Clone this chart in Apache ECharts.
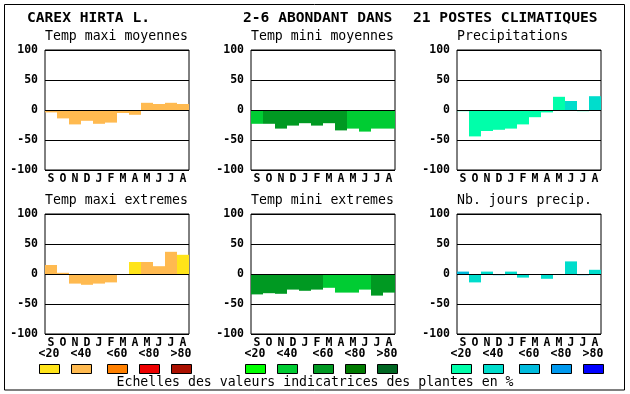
<!DOCTYPE html>
<html><head><meta charset="utf-8">
<script src="https://cdn.jsdelivr.net/npm/echarts@6/dist/echarts.min.js"></script>
<style>html,body{margin:0;padding:0;background:#fff}#c{width:630px;height:394px}</style>
</head><body><div id="c"></div>
<script>
const months = ['S','O','N','D','J','F','M','A','M','J','J','A'];
const yTicks = [-100,-50,0,50,100];
const headTexts = ['CAREX HIRTA L.','2-6 ABONDANT DANS','21 POSTES CLIMATIQUES'];
const panelTitles = ['Temp maxi moyennes','Temp mini moyennes','Precipitations','Temp maxi extremes','Temp mini extremes','Nb. jours precip.'];
const classLabels = ['<20','<40','<60','<80','>80'];
const footer = 'Echelles des valeurs indicatrices des plantes en %';

const paletteTmax = ['#FFE41A','#FFBA50','#FF8000','#EE0000','#AA1000'];
const paletteTmin = ['#00FF00','#00CC33','#009922','#007A00','#006622'];
const palettePrec = ['#00FFAA','#00DDCC','#00BBDD','#0099EE','#0000FF'];

const tmaxMoy    = [-4,-14,-24,-18,-23,-21,-5,-8,12,10,12,10];
const tmaxMoyCls = [1,1,1,1,1,1,1,1,1,1,1,1];
const tminMoy    = [-23,-23,-31,-26,-22,-26,-22,-34,-31,-36,-31,-31];
const tminMoyCls = [1,2,2,2,2,2,2,2,1,1,1,1];
const precip     = [-2,-44,-35,-33,-31,-24,-12,-4,22,15,-2,23];
const precipCls  = [0,0,0,0,0,0,0,0,0,1,0,1];
const tmaxExt    = [15,2,-16,-18,-16,-14,0,20,20,13,37,32];
const tmaxExtCls = [1,1,1,1,1,1,1,0,1,1,1,0];
const tminExt    = [-34,-32,-33,-26,-28,-26,-23,-31,-31,-26,-36,-31];
const tminExtCls = [2,2,2,2,2,2,1,1,1,1,2,2];
const nbJours    = [4,-14,4,-2,4,-6,0,-8,0,21,-2,7];
const nbJoursCls = [2,1,1,2,1,1,1,1,1,1,2,1];

const panels = [
  {vals:tmaxMoy, cls:tmaxMoyCls, pal:paletteTmax},
  {vals:tminMoy, cls:tminMoyCls, pal:paletteTmin},
  {vals:precip, cls:precipCls, pal:palettePrec},
  {vals:tmaxExt, cls:tmaxExtCls, pal:paletteTmax},
  {vals:tminExt, cls:tminExtCls, pal:paletteTmin},
  {vals:nbJours, cls:nbJoursCls, pal:palettePrec}
];
const lefts = [45,251,457];
const tops = [50,214];
const GW = 144, GH = 120;
const MONO = '"DejaVu Sans Mono", "Liberation Mono", monospace';

const grids=[], xAxes=[], yAxes=[], series=[], graphics=[];
panels.forEach((p,i)=>{
  const col=i%3, row=Math.floor(i/3);
  grids.push({left:lefts[col], top:tops[row], width:GW, height:GH, show:true, borderColor:'#000', borderWidth:1, backgroundColor:'transparent'});
  xAxes.push({type:'category', gridIndex:i, data:months, position:'bottom',
    axisLine:{show:false}, axisTick:{show:false},
    axisLabel:{interval:0, margin:3, color:'#000', fontFamily:MONO, fontWeight:'bold', fontSize:11.5}});
  yAxes.push({type:'value', gridIndex:i, min:yTicks[0], max:yTicks[yTicks.length-1], interval:50,
    axisLine:{show:false}, axisTick:{show:false},
    splitLine:{show:true, lineStyle:{color:'#000', width:1}},
    axisLabel:{margin:7, color:'#000', fontFamily:MONO, fontWeight:'bold', fontSize:11.5}});
  series.push({type:'bar', xAxisIndex:i, yAxisIndex:i, barCategoryGap:'0%',
    data:p.vals.map((v,k)=>({value:v, itemStyle:{color:p.pal[p.cls[k]]}})),
    markLine:{silent:true, symbol:['none','none'], label:{show:false}, animation:false,
      lineStyle:{color:'#000', width:1, type:'solid'}, data:[{yAxis:0}]}});
  graphics.push({type:'text', left:lefts[col], top:tops[row]-20,
    style:{text:panelTitles[i], fill:'#000', font:'13.2px '+MONO}});
});

// header
const headX=[27,243,413];
headTexts.forEach((t,i)=>graphics.push({type:'text', left:headX[i], top:11,
  style:{text:t, fill:'#000', font:'bold 14.6px '+MONO}}));

// legend rows
const offs=[0,32,68,100,132];
const pals=[paletteTmax,paletteTmin,palettePrec];
lefts.forEach((L,g)=>{
  offs.forEach((o,k)=>{
    const x=L-6+o;
    graphics.push({type:'rect', shape:{x:x+0.5, y:364.5, width:20, height:9},
      style:{fill:pals[g][k], stroke:'#000', lineWidth:1}});
    graphics.push({type:'text', x:x+10, y:354,
      style:{text:classLabels[k], fill:'#000', font:'bold 11.5px '+MONO, align:'center', verticalAlign:'middle'}});
  });
});
graphics.push({type:'text', x:315, y:383,
  style:{text:footer, fill:'#000', font:'13.2px '+MONO, align:'center', verticalAlign:'middle'}});
graphics.push({type:'rect', shape:{x:4.5, y:4.5, width:620, height:385.5},
  style:{fill:'none', stroke:'#000', lineWidth:1}});

const chart = echarts.init(document.getElementById('c'), null, {renderer:'canvas'});
chart.setOption({animation:false, backgroundColor:'#fff', grid:grids, xAxis:xAxes, yAxis:yAxes, series:series, graphic:graphics});
</script></body></html>
